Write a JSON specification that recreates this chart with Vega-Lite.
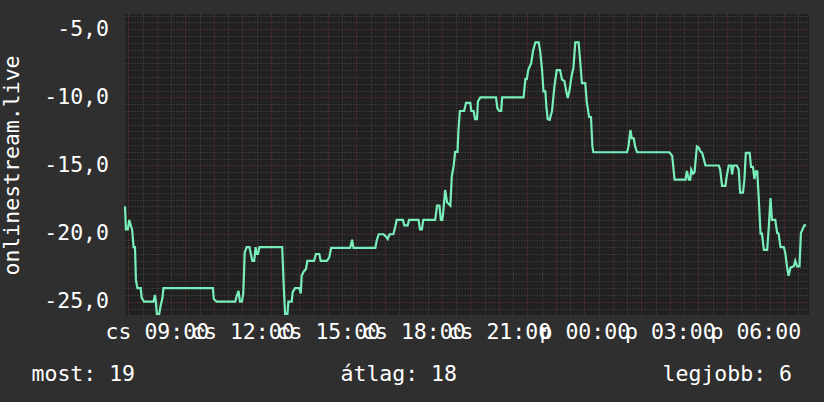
{
  "$schema": "https://vega.github.io/schema/vega-lite/v6.json",
  "autosize": "none",
  "width": 684,
  "height": 302,
  "padding": {"left": 125, "top": 14, "right": 15, "bottom": 86},
  "background": "#2f2f2f",
  "config": {
    "font": "DejaVu Sans Mono",
    "view": {"fill": "#212121", "stroke": null},
    "axis": {
      "labelFont": "DejaVu Sans Mono",
      "titleFont": "DejaVu Sans Mono",
      "labelColor": "#ffffff",
      "titleColor": "#ffffff",
      "labelFontSize": 21.5,
      "titleFontSize": 21.5,
      "titleFontWeight": "normal",
      "domain": false,
      "ticks": false
    }
  },
  "data": {
    "values": [
      {"t": "2024-01-04T07:53", "v": -18.0},
      {"t": "2024-01-04T07:55", "v": -19.7},
      {"t": "2024-01-04T07:59", "v": -19.7},
      {"t": "2024-01-04T08:02", "v": -19.0},
      {"t": "2024-01-04T08:06", "v": -19.5},
      {"t": "2024-01-04T08:08", "v": -19.7},
      {"t": "2024-01-04T08:11", "v": -21.0},
      {"t": "2024-01-04T08:14", "v": -21.0},
      {"t": "2024-01-04T08:16", "v": -23.4},
      {"t": "2024-01-04T08:19", "v": -24.0},
      {"t": "2024-01-04T08:26", "v": -24.0},
      {"t": "2024-01-04T08:28", "v": -24.7},
      {"t": "2024-01-04T08:33", "v": -25.0},
      {"t": "2024-01-04T08:53", "v": -25.0},
      {"t": "2024-01-04T08:56", "v": -24.5},
      {"t": "2024-01-04T08:58", "v": -25.0},
      {"t": "2024-01-04T09:00", "v": -25.9},
      {"t": "2024-01-04T09:05", "v": -25.9},
      {"t": "2024-01-04T09:08", "v": -25.3},
      {"t": "2024-01-04T09:12", "v": -24.7},
      {"t": "2024-01-04T09:14", "v": -24.0},
      {"t": "2024-01-04T10:58", "v": -24.0},
      {"t": "2024-01-04T11:00", "v": -24.8},
      {"t": "2024-01-04T11:06", "v": -25.0},
      {"t": "2024-01-04T11:45", "v": -25.0},
      {"t": "2024-01-04T11:48", "v": -24.6},
      {"t": "2024-01-04T11:52", "v": -24.2},
      {"t": "2024-01-04T11:55", "v": -25.0},
      {"t": "2024-01-04T11:59", "v": -25.0},
      {"t": "2024-01-04T12:02", "v": -24.4},
      {"t": "2024-01-04T12:05", "v": -21.4},
      {"t": "2024-01-04T12:09", "v": -21.0},
      {"t": "2024-01-04T12:15", "v": -21.0},
      {"t": "2024-01-04T12:18", "v": -21.5},
      {"t": "2024-01-04T12:21", "v": -22.0},
      {"t": "2024-01-04T12:25", "v": -22.0},
      {"t": "2024-01-04T12:28", "v": -21.0},
      {"t": "2024-01-04T12:30", "v": -21.5},
      {"t": "2024-01-04T12:33", "v": -21.5},
      {"t": "2024-01-04T12:36", "v": -21.0},
      {"t": "2024-01-04T13:24", "v": -21.0},
      {"t": "2024-01-04T13:27", "v": -23.7},
      {"t": "2024-01-04T13:30", "v": -25.9},
      {"t": "2024-01-04T13:35", "v": -25.9},
      {"t": "2024-01-04T13:37", "v": -25.0},
      {"t": "2024-01-04T13:44", "v": -25.0},
      {"t": "2024-01-04T13:46", "v": -24.3},
      {"t": "2024-01-04T13:51", "v": -24.0},
      {"t": "2024-01-04T14:00", "v": -24.0},
      {"t": "2024-01-04T14:03", "v": -24.4},
      {"t": "2024-01-04T14:05", "v": -23.1},
      {"t": "2024-01-04T14:09", "v": -22.8},
      {"t": "2024-01-04T14:14", "v": -22.6},
      {"t": "2024-01-04T14:17", "v": -22.0},
      {"t": "2024-01-04T14:31", "v": -22.0},
      {"t": "2024-01-04T14:35", "v": -21.5},
      {"t": "2024-01-04T14:42", "v": -21.5},
      {"t": "2024-01-04T14:45", "v": -22.0},
      {"t": "2024-01-04T14:58", "v": -22.0},
      {"t": "2024-01-04T15:03", "v": -21.75},
      {"t": "2024-01-04T15:07", "v": -21.05},
      {"t": "2024-01-04T15:47", "v": -21.05},
      {"t": "2024-01-04T15:51", "v": -20.45},
      {"t": "2024-01-04T15:54", "v": -21.05},
      {"t": "2024-01-04T16:40", "v": -21.05},
      {"t": "2024-01-04T16:43", "v": -20.5},
      {"t": "2024-01-04T16:47", "v": -20.05},
      {"t": "2024-01-04T16:57", "v": -20.05},
      {"t": "2024-01-04T17:02", "v": -20.2},
      {"t": "2024-01-04T17:06", "v": -20.4},
      {"t": "2024-01-04T17:10", "v": -20.05},
      {"t": "2024-01-04T17:18", "v": -20.05},
      {"t": "2024-01-04T17:22", "v": -19.5},
      {"t": "2024-01-04T17:25", "v": -19.0},
      {"t": "2024-01-04T17:38", "v": -19.0},
      {"t": "2024-01-04T17:41", "v": -19.4},
      {"t": "2024-01-04T17:48", "v": -19.4},
      {"t": "2024-01-04T17:51", "v": -19.0},
      {"t": "2024-01-04T18:11", "v": -19.0},
      {"t": "2024-01-04T18:14", "v": -19.7},
      {"t": "2024-01-04T18:18", "v": -19.7},
      {"t": "2024-01-04T18:21", "v": -19.0},
      {"t": "2024-01-04T18:46", "v": -19.0},
      {"t": "2024-01-04T18:50", "v": -17.95},
      {"t": "2024-01-04T18:55", "v": -17.95},
      {"t": "2024-01-04T18:58", "v": -19.0},
      {"t": "2024-01-04T19:01", "v": -19.0},
      {"t": "2024-01-04T19:03", "v": -18.4},
      {"t": "2024-01-04T19:07", "v": -16.8},
      {"t": "2024-01-04T19:11", "v": -17.7},
      {"t": "2024-01-04T19:18", "v": -17.95},
      {"t": "2024-01-04T19:21", "v": -15.8},
      {"t": "2024-01-04T19:25", "v": -15.0},
      {"t": "2024-01-04T19:28", "v": -14.0},
      {"t": "2024-01-04T19:33", "v": -14.0},
      {"t": "2024-01-04T19:35", "v": -12.4},
      {"t": "2024-01-04T19:38", "v": -11.0},
      {"t": "2024-01-04T19:47", "v": -11.0},
      {"t": "2024-01-04T19:51", "v": -10.4},
      {"t": "2024-01-04T20:00", "v": -10.4},
      {"t": "2024-01-04T20:02", "v": -11.0},
      {"t": "2024-01-04T20:07", "v": -11.0},
      {"t": "2024-01-04T20:10", "v": -11.6},
      {"t": "2024-01-04T20:14", "v": -11.6},
      {"t": "2024-01-04T20:16", "v": -10.3},
      {"t": "2024-01-04T20:21", "v": -10.0},
      {"t": "2024-01-04T20:54", "v": -10.0},
      {"t": "2024-01-04T20:57", "v": -10.8},
      {"t": "2024-01-04T21:01", "v": -11.0},
      {"t": "2024-01-04T21:05", "v": -11.0},
      {"t": "2024-01-04T21:07", "v": -10.0},
      {"t": "2024-01-04T21:52", "v": -10.0},
      {"t": "2024-01-04T21:56", "v": -8.65},
      {"t": "2024-01-04T21:59", "v": -8.65},
      {"t": "2024-01-04T22:02", "v": -7.97},
      {"t": "2024-01-04T22:08", "v": -7.5},
      {"t": "2024-01-04T22:12", "v": -6.6},
      {"t": "2024-01-04T22:17", "v": -5.96},
      {"t": "2024-01-04T22:24", "v": -5.96},
      {"t": "2024-01-04T22:27", "v": -6.6},
      {"t": "2024-01-04T22:31", "v": -7.97},
      {"t": "2024-01-04T22:34", "v": -9.56},
      {"t": "2024-01-04T22:38", "v": -9.56},
      {"t": "2024-01-04T22:40", "v": -10.66},
      {"t": "2024-01-04T22:43", "v": -11.6},
      {"t": "2024-01-04T22:47", "v": -11.65},
      {"t": "2024-01-04T22:52", "v": -11.0},
      {"t": "2024-01-04T22:57", "v": -9.2},
      {"t": "2024-01-04T22:59", "v": -8.7},
      {"t": "2024-01-04T23:02", "v": -8.0},
      {"t": "2024-01-04T23:09", "v": -8.0},
      {"t": "2024-01-04T23:13", "v": -8.7},
      {"t": "2024-01-04T23:18", "v": -8.8},
      {"t": "2024-01-04T23:22", "v": -9.56},
      {"t": "2024-01-04T23:25", "v": -10.05},
      {"t": "2024-01-04T23:29", "v": -9.44},
      {"t": "2024-01-04T23:33", "v": -8.46},
      {"t": "2024-01-04T23:37", "v": -7.85},
      {"t": "2024-01-04T23:41", "v": -5.96},
      {"t": "2024-01-04T23:48", "v": -5.96},
      {"t": "2024-01-04T23:51", "v": -7.24},
      {"t": "2024-01-04T23:55", "v": -8.95},
      {"t": "2024-01-05T00:02", "v": -8.95},
      {"t": "2024-01-05T00:05", "v": -10.3},
      {"t": "2024-01-05T00:10", "v": -11.44},
      {"t": "2024-01-05T00:14", "v": -11.44},
      {"t": "2024-01-05T00:17", "v": -13.6},
      {"t": "2024-01-05T00:19", "v": -14.03},
      {"t": "2024-01-05T01:30", "v": -14.03},
      {"t": "2024-01-05T01:33", "v": -13.6},
      {"t": "2024-01-05T01:37", "v": -12.4},
      {"t": "2024-01-05T01:40", "v": -13.0},
      {"t": "2024-01-05T01:44", "v": -13.0},
      {"t": "2024-01-05T01:47", "v": -13.6},
      {"t": "2024-01-05T01:51", "v": -14.03},
      {"t": "2024-01-05T02:59", "v": -14.03},
      {"t": "2024-01-05T03:05", "v": -14.3},
      {"t": "2024-01-05T03:07", "v": -15.0},
      {"t": "2024-01-05T03:10", "v": -16.04},
      {"t": "2024-01-05T03:33", "v": -16.04},
      {"t": "2024-01-05T03:36", "v": -15.4},
      {"t": "2024-01-05T03:40", "v": -16.04},
      {"t": "2024-01-05T03:43", "v": -16.04},
      {"t": "2024-01-05T03:45", "v": -15.3},
      {"t": "2024-01-05T03:49", "v": -15.6},
      {"t": "2024-01-05T03:52", "v": -15.5},
      {"t": "2024-01-05T03:57", "v": -13.6},
      {"t": "2024-01-05T04:01", "v": -13.7},
      {"t": "2024-01-05T04:04", "v": -13.95},
      {"t": "2024-01-05T04:08", "v": -14.07},
      {"t": "2024-01-05T04:11", "v": -14.45},
      {"t": "2024-01-05T04:15", "v": -15.0},
      {"t": "2024-01-05T04:43", "v": -15.0},
      {"t": "2024-01-05T04:46", "v": -15.3},
      {"t": "2024-01-05T04:50", "v": -16.5},
      {"t": "2024-01-05T04:57", "v": -16.5},
      {"t": "2024-01-05T05:00", "v": -15.75},
      {"t": "2024-01-05T05:04", "v": -15.0},
      {"t": "2024-01-05T05:09", "v": -15.0},
      {"t": "2024-01-05T05:11", "v": -15.66},
      {"t": "2024-01-05T05:14", "v": -15.0},
      {"t": "2024-01-05T05:21", "v": -15.0},
      {"t": "2024-01-05T05:25", "v": -15.3},
      {"t": "2024-01-05T05:28", "v": -17.0},
      {"t": "2024-01-05T05:34", "v": -17.0},
      {"t": "2024-01-05T05:37", "v": -16.04},
      {"t": "2024-01-05T05:40", "v": -14.08},
      {"t": "2024-01-05T05:48", "v": -14.08},
      {"t": "2024-01-05T05:51", "v": -15.1},
      {"t": "2024-01-05T05:55", "v": -15.1},
      {"t": "2024-01-05T05:58", "v": -15.99},
      {"t": "2024-01-05T06:01", "v": -15.43},
      {"t": "2024-01-05T06:04", "v": -15.43},
      {"t": "2024-01-05T06:07", "v": -17.26},
      {"t": "2024-01-05T06:11", "v": -20.0},
      {"t": "2024-01-05T06:14", "v": -20.0},
      {"t": "2024-01-05T06:18", "v": -21.2},
      {"t": "2024-01-05T06:25", "v": -21.2},
      {"t": "2024-01-05T06:28", "v": -19.7},
      {"t": "2024-01-05T06:32", "v": -17.4},
      {"t": "2024-01-05T06:35", "v": -19.0},
      {"t": "2024-01-05T06:42", "v": -19.0},
      {"t": "2024-01-05T06:46", "v": -19.95},
      {"t": "2024-01-05T06:49", "v": -20.0},
      {"t": "2024-01-05T06:53", "v": -21.0},
      {"t": "2024-01-05T07:00", "v": -21.0},
      {"t": "2024-01-05T07:03", "v": -21.4},
      {"t": "2024-01-05T07:07", "v": -22.5},
      {"t": "2024-01-05T07:10", "v": -23.1},
      {"t": "2024-01-05T07:14", "v": -22.5},
      {"t": "2024-01-05T07:21", "v": -22.4},
      {"t": "2024-01-05T07:24", "v": -22.0},
      {"t": "2024-01-05T07:28", "v": -22.4},
      {"t": "2024-01-05T07:33", "v": -22.4},
      {"t": "2024-01-05T07:36", "v": -19.96},
      {"t": "2024-01-05T07:40", "v": -19.65},
      {"t": "2024-01-05T07:43", "v": -19.4},
      {"t": "2024-01-05T07:47", "v": -19.4}
    ]
  },
  "resolve": {"axis": {"x": "independent", "y": "independent"}},
  "layer": [
    {
      "mark": {"type": "line", "color": "#78eebb", "strokeWidth": 2.2, "interpolate": "linear"},
      "encoding": {
        "x": {
          "field": "t", "type": "temporal",
          "scale": {"domain": [{"year": 2024, "month": 1, "date": 4, "hours": 7, "minutes": 53}, {"year": 2024, "month": 1, "date": 5, "hours": 7, "minutes": 53}], "nice": false},
          "axis": {
            "orient": "bottom",
            "values": [
              {"year": 2024, "month": 1, "date": 4, "hours": 8, "minutes": 0},
              {"year": 2024, "month": 1, "date": 4, "hours": 8, "minutes": 30},
              {"year": 2024, "month": 1, "date": 4, "hours": 9, "minutes": 0},
              {"year": 2024, "month": 1, "date": 4, "hours": 9, "minutes": 30},
              {"year": 2024, "month": 1, "date": 4, "hours": 10, "minutes": 0},
              {"year": 2024, "month": 1, "date": 4, "hours": 10, "minutes": 30},
              {"year": 2024, "month": 1, "date": 4, "hours": 11, "minutes": 0},
              {"year": 2024, "month": 1, "date": 4, "hours": 11, "minutes": 30},
              {"year": 2024, "month": 1, "date": 4, "hours": 12, "minutes": 0},
              {"year": 2024, "month": 1, "date": 4, "hours": 12, "minutes": 30},
              {"year": 2024, "month": 1, "date": 4, "hours": 13, "minutes": 0},
              {"year": 2024, "month": 1, "date": 4, "hours": 13, "minutes": 30},
              {"year": 2024, "month": 1, "date": 4, "hours": 14, "minutes": 0},
              {"year": 2024, "month": 1, "date": 4, "hours": 14, "minutes": 30},
              {"year": 2024, "month": 1, "date": 4, "hours": 15, "minutes": 0},
              {"year": 2024, "month": 1, "date": 4, "hours": 15, "minutes": 30},
              {"year": 2024, "month": 1, "date": 4, "hours": 16, "minutes": 0},
              {"year": 2024, "month": 1, "date": 4, "hours": 16, "minutes": 30},
              {"year": 2024, "month": 1, "date": 4, "hours": 17, "minutes": 0},
              {"year": 2024, "month": 1, "date": 4, "hours": 17, "minutes": 30},
              {"year": 2024, "month": 1, "date": 4, "hours": 18, "minutes": 0},
              {"year": 2024, "month": 1, "date": 4, "hours": 18, "minutes": 30},
              {"year": 2024, "month": 1, "date": 4, "hours": 19, "minutes": 0},
              {"year": 2024, "month": 1, "date": 4, "hours": 19, "minutes": 30},
              {"year": 2024, "month": 1, "date": 4, "hours": 20, "minutes": 0},
              {"year": 2024, "month": 1, "date": 4, "hours": 20, "minutes": 30},
              {"year": 2024, "month": 1, "date": 4, "hours": 21, "minutes": 0},
              {"year": 2024, "month": 1, "date": 4, "hours": 21, "minutes": 30},
              {"year": 2024, "month": 1, "date": 4, "hours": 22, "minutes": 0},
              {"year": 2024, "month": 1, "date": 4, "hours": 22, "minutes": 30},
              {"year": 2024, "month": 1, "date": 4, "hours": 23, "minutes": 0},
              {"year": 2024, "month": 1, "date": 4, "hours": 23, "minutes": 30},
              {"year": 2024, "month": 1, "date": 5, "hours": 0, "minutes": 0},
              {"year": 2024, "month": 1, "date": 5, "hours": 0, "minutes": 30},
              {"year": 2024, "month": 1, "date": 5, "hours": 1, "minutes": 0},
              {"year": 2024, "month": 1, "date": 5, "hours": 1, "minutes": 30},
              {"year": 2024, "month": 1, "date": 5, "hours": 2, "minutes": 0},
              {"year": 2024, "month": 1, "date": 5, "hours": 2, "minutes": 30},
              {"year": 2024, "month": 1, "date": 5, "hours": 3, "minutes": 0},
              {"year": 2024, "month": 1, "date": 5, "hours": 3, "minutes": 30},
              {"year": 2024, "month": 1, "date": 5, "hours": 4, "minutes": 0},
              {"year": 2024, "month": 1, "date": 5, "hours": 4, "minutes": 30},
              {"year": 2024, "month": 1, "date": 5, "hours": 5, "minutes": 0},
              {"year": 2024, "month": 1, "date": 5, "hours": 5, "minutes": 30},
              {"year": 2024, "month": 1, "date": 5, "hours": 6, "minutes": 0},
              {"year": 2024, "month": 1, "date": 5, "hours": 6, "minutes": 30},
              {"year": 2024, "month": 1, "date": 5, "hours": 7, "minutes": 0},
              {"year": 2024, "month": 1, "date": 5, "hours": 7, "minutes": 30}
            ],
            "grid": true,
            "gridDash": [1, 2],
            "gridWidth": 1,
            "gridColor": {"condition": {"test": "minutes(datum.value) == 0", "value": "#7a3636"}, "value": "#4e4e4e"},
            "labelOverlap": false,
            "labelFlush": false,
            "labelBaseline": "alphabetic",
            "labelPadding": 22.3,
            "labelExpr": "minutes(datum.value) == 0 && hours(datum.value) % 3 == 0 ? (day(datum.value) == 4 ? 'cs' : 'p') + ' ' + timeFormat(datum.value, '%H:%M') : ''",
            "title": "most: 19",
            "titleX": -94,
            "titleY": 64,
            "titleAlign": "left",
            "titleBaseline": "alphabetic"
          }
        },
        "y": {
          "field": "v", "type": "quantitative",
          "scale": {"domain": [-26.05, -3.88], "nice": false, "zero": false},
          "axis": {
            "orient": "left",
            "values": [-26, -25.5, -25, -24.5, -24, -23.5, -23, -22.5, -22, -21.5, -21, -20.5, -20, -19.5, -19, -18.5, -18, -17.5, -17, -16.5, -16, -15.5, -15, -14.5, -14, -13.5, -13, -12.5, -12, -11.5, -11, -10.5, -10, -9.5, -9, -8.5, -8, -7.5, -7, -6.5, -6, -5.5, -5, -4.5, -4],
            "grid": true,
            "gridDash": [1, 2],
            "gridWidth": 1,
            "gridColor": {"condition": {"test": "datum.value % 5 == 0", "value": "#7a3636"}, "value": "#4e4e4e"},
            "labelOverlap": false,
            "labelFlush": false,
            "labelPadding": 16.5,
            "labelBaseline": "middle",
            "labelExpr": "datum.value % 5 == 0 ? replace(replace(format(datum.value, '.1f'), '.', ','), '−', '-') : ''",
            "title": "onlinestream.live",
            "titleAngle": -90,
            "titleX": -106.7,
            "titleY": 151,
            "titleAlign": "center",
            "titleBaseline": "alphabetic"
          }
        }
      }
    },
    {
      "mark": {"type": "line", "opacity": 0},
      "encoding": {
        "x": {
          "field": "t", "type": "temporal",
          "scale": {"domain": [{"year": 2024, "month": 1, "date": 4, "hours": 7, "minutes": 53}, {"year": 2024, "month": 1, "date": 5, "hours": 7, "minutes": 53}], "nice": false},
          "axis": {
            "orient": "bottom", "grid": false, "labels": false,
            "title": "átlag: 18", "titleX": 215, "titleY": 64,
            "titleAlign": "left", "titleBaseline": "alphabetic"
          }
        },
        "y": {
          "field": "v", "type": "quantitative",
          "scale": {"domain": [-26.05, -3.88], "nice": false, "zero": false},
          "axis": null
        }
      }
    },
    {
      "mark": {"type": "line", "opacity": 0},
      "encoding": {
        "x": {
          "field": "t", "type": "temporal",
          "scale": {"domain": [{"year": 2024, "month": 1, "date": 4, "hours": 7, "minutes": 53}, {"year": 2024, "month": 1, "date": 5, "hours": 7, "minutes": 53}], "nice": false},
          "axis": {
            "orient": "bottom", "grid": false, "labels": false,
            "title": "legjobb: 6", "titleX": 666.5, "titleY": 64,
            "titleAlign": "right", "titleBaseline": "alphabetic"
          }
        },
        "y": {
          "field": "v", "type": "quantitative",
          "scale": {"domain": [-26.05, -3.88], "nice": false, "zero": false},
          "axis": null
        }
      }
    }
  ]
}
